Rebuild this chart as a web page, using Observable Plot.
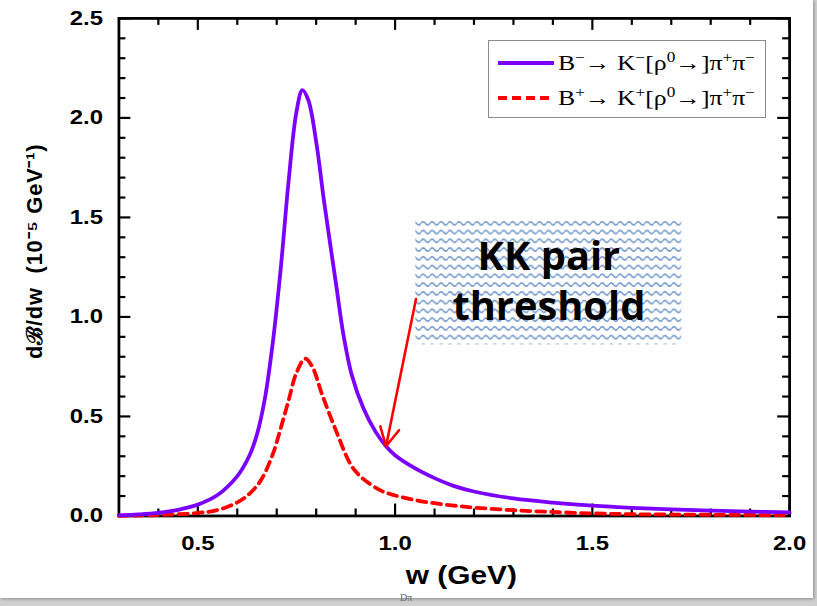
<!DOCTYPE html>
<html>
<head>
<meta charset="utf-8">
<script src="https://cdn.jsdelivr.net/npm/d3@7"></script>
<script src="https://cdn.jsdelivr.net/npm/@observablehq/plot@0.6"></script>
<style>
  html, body { margin: 0; padding: 0; background: #cfcfcf; width: 817px; height: 606px; overflow: hidden; }
  #card { position: absolute; left: 0; top: 0; width: 813px; height: 598px; background: #fff; overflow: hidden; box-shadow: 1px 1px 3px #8a8a8a; }
  #legend { position: absolute; left: 488px; top: 40px; width: 278px; height: 78px; border: 1px solid #8c8c8c; box-sizing: border-box; background: #fff; }
  #foot { position: absolute; left: 400px; top: 592px; font: 10px "Liberation Serif", serif; line-height: 12px; color: #666; z-index: 5; }
</style>
</head>
<body>
<div id="card"></div>
<div id="foot">Dπ</div>
<script>
// ---- data ----
const wMinus = [0.30,0.35,0.40,0.45,0.50,0.55,0.60,0.63,0.65,0.67,0.69,0.71,0.73,0.75,0.765,0.78,0.80,0.82,0.85,0.87,0.89,0.92,0.95,0.977,1.00,1.05,1.10,1.15,1.20,1.30,1.40,1.50,1.60,1.70,1.80,1.90,2.00];
const bMinus = [0.003,0.008,0.016,0.031,0.057,0.105,0.20,0.30,0.41,0.59,0.87,1.24,1.68,2.03,2.14,2.09,1.88,1.58,1.17,0.90,0.71,0.54,0.425,0.35,0.305,0.24,0.19,0.15,0.123,0.088,0.067,0.052,0.041,0.033,0.027,0.022,0.018];
const wPlus = [0.30,0.40,0.50,0.55,0.60,0.63,0.66,0.69,0.71,0.73,0.75,0.772,0.79,0.815,0.85,0.89,0.92,0.967,1.00,1.05,1.10,1.15,1.20,1.30,1.40,1.50,1.60,1.80,2.00];
const bPlus = [0.001,0.005,0.015,0.03,0.068,0.11,0.18,0.31,0.44,0.58,0.72,0.79,0.75,0.61,0.43,0.25,0.185,0.125,0.103,0.08,0.064,0.052,0.042,0.029,0.02,0.013,0.009,0.006,0.004];

const xMajorTicks = [0.5, 1.0, 1.5, 2.0];
const xMinorTicks = [0.4,0.6,0.7,0.8,0.9,1.1,1.2,1.3,1.4,1.6,1.7,1.8,1.9];
const yMajorTicks = [0.0, 0.5, 1.0, 1.5, 2.0, 2.5];
const yMinorTicks = [0.1,0.2,0.3,0.4,0.6,0.7,0.8,0.9,1.1,1.2,1.3,1.4,1.6,1.7,1.8,1.9,2.1,2.2,2.3,2.4];

const xLabel = "w (GeV)";
const yLabel = "dℬ/dw  (10⁻⁵ GeV⁻¹)";
const noteLines = ["KK pair", "threshold"];
const noteLineY = [1.30, 1.05];
const noteBox = {x1: 1.0525, x2: 1.727, y1: 0.86, y2: 1.48};
const arrowFrom = [1.053, 1.09];
const arrowTo = [0.977, 0.35];
// label anchor positions (data units)
const xLabelPos = [1.168, -0.30];
const yLabelPos = [0.088, 1.33];

const seriesMinus = wMinus.map((w, i) => ({w, v: bMinus[i]}));
const seriesPlus = wPlus.map((w, i) => ({w, v: bPlus[i]}));

const W = 817, H = 606;
const mL = 119, mR = 24, mT = 18, mB = 88;
const pw = W - mL - mR, ph = H - mT - mB;
const purple = "#7b00ff", red = "#ff0000";
const sansBold = "'Liberation Sans', Arial, sans-serif";

const plot = Plot.plot({
  width: W, height: H,
  marginLeft: mL, marginRight: mR, marginTop: mT, marginBottom: mB,
  x: {domain: [0.3, 2.0]},
  y: {domain: [0, 2.5]},
  style: {fontFamily: sansBold, fontWeight: "bold", background: "transparent", overflow: "visible"},
  marks: [
    Plot.rect([noteBox], {x1: "x1", x2: "x2", y1: "y1", y2: "y2", fill: "url(#wave)"}),
    Plot.text(noteLines, {x: (noteBox.x1 + noteBox.x2) / 2, y: (d, i) => noteLineY[i], text: d => d,
      fontFamily: "'Open Sans', sans-serif", fontWeight: "bold", fontSize: 40, fill: "#000", lineAnchor: "middle"}),
    // ticks (inward) on all four sides
    Plot.tickX(xMajorTicks, {x: d => d, insetTop: ph - 12, stroke: "#000", strokeWidth: 2.2}),
    Plot.tickX(xMinorTicks, {x: d => d, insetTop: ph - 7, stroke: "#000", strokeWidth: 2.2}),
    Plot.tickX(xMajorTicks, {x: d => d, insetBottom: ph - 12, stroke: "#000", strokeWidth: 2.2}),
    Plot.tickX(xMinorTicks, {x: d => d, insetBottom: ph - 7, stroke: "#000", strokeWidth: 2.2}),
    Plot.tickY(yMajorTicks, {y: d => d, insetRight: pw - 12, stroke: "#000", strokeWidth: 2.2}),
    Plot.tickY(yMinorTicks, {y: d => d, insetRight: pw - 7, stroke: "#000", strokeWidth: 2.2}),
    Plot.tickY(yMajorTicks, {y: d => d, insetLeft: pw - 12, stroke: "#000", strokeWidth: 2.2}),
    Plot.tickY(yMinorTicks, {y: d => d, insetLeft: pw - 7, stroke: "#000", strokeWidth: 2.2}),
    Plot.frame({stroke: "#000", strokeWidth: 2.8}),
    Plot.axisX({ticks: xMajorTicks, tickSize: 0, tickPadding: 20, tickFormat: d3.format(".1f"), label: null, fontSize: 20, fontWeight: "bold"}),
    Plot.axisY({ticks: yMajorTicks, tickSize: 0, tickPadding: 16, tickFormat: d3.format(".1f"), label: null, fontSize: 20, fontWeight: "bold"}),
    Plot.text([xLabel], {x: xLabelPos[0], y: xLabelPos[1], text: d => d, fontSize: 25, fontWeight: "bold", lineAnchor: "middle"}),
    Plot.text([yLabel], {x: yLabelPos[0], y: yLabelPos[1], rotate: -90, text: d => d, fontSize: 22, fontWeight: "bold", lineAnchor: "middle"}),
    Plot.line(seriesPlus, {x: "w", y: "v", stroke: red, strokeWidth: 3.8, strokeDasharray: "9,6", curve: "catmull-rom"}),
    Plot.line(seriesMinus, {x: "w", y: "v", stroke: purple, strokeWidth: 3.8, curve: "catmull-rom"}),
    Plot.arrow([{a: arrowFrom, b: arrowTo}], {x1: d => d.a[0], y1: d => d.a[1], x2: d => d.b[0], y2: d => d.b[1],
      stroke: red, strokeWidth: 2.6, headLength: 12, headAngle: 55})
  ]
});

// wavy fill pattern for the annotation box
const defs = d3.select(plot).insert("defs", ":first-child");
const pat = defs.append("pattern").attr("id", "wave").attr("patternUnits", "userSpaceOnUse")
  .attr("width", 9).attr("height", 8.8);
pat.append("rect").attr("width", 9).attr("height", 8.8).attr("fill", "#fff");
pat.append("path").attr("d", "M0,4.4 Q2.25,1.2 4.5,4.4 T9,4.4").attr("fill", "none")
  .attr("stroke", "#7399cc").attr("stroke-width", 1.5);

document.getElementById("card").appendChild(plot);

// the reference's Arial-bold texts are slightly stretched horizontally
const tickTexts = new Set([...xMajorTicks, ...yMajorTicks].map(d3.format(".1f")));
d3.select(plot).selectAll("text").each(function() {
  const s = this.textContent;
  if (tickTexts.has(s) || s === xLabel) {
    const L = this.getComputedTextLength();
    this.setAttribute("textLength", (L * 1.2).toFixed(1));
    this.setAttribute("lengthAdjust", "spacingAndGlyphs");
  } else if (s === yLabel) {
    this.style.letterSpacing = "0.8px";
  }
});

// legend
const legend = document.createElement("div");
legend.id = "legend";
const sup = (s) => `<tspan dy="-8" font-size="14">${s}</tspan>`;
const row = (y, a) => `<text x="69" y="${y}" textLength="197" lengthAdjust="spacingAndGlyphs" font-family="'Liberation Serif', 'Times New Roman', serif" font-size="21" fill="#000">B${sup(a)}<tspan dy="8">→ K</tspan>${sup(a)}<tspan dy="8">[ρ</tspan>${sup("0")}<tspan dy="8">→]π</tspan>${sup("+")}<tspan dy="8">π</tspan>${sup("−")}</text>`;
legend.innerHTML = `<svg width="276" height="76" style="position:absolute;left:0;top:0">
  <line x1="9" x2="65" y1="22" y2="22" stroke="${purple}" stroke-width="4"/>
  <line x1="9" x2="65" y1="57" y2="57" stroke="${red}" stroke-width="4" stroke-dasharray="9,5"/>
  ${row(29, "−")}
  ${row(64, "+")}
</svg>`;
document.getElementById("card").appendChild(legend);
</script>
</body>
</html>
